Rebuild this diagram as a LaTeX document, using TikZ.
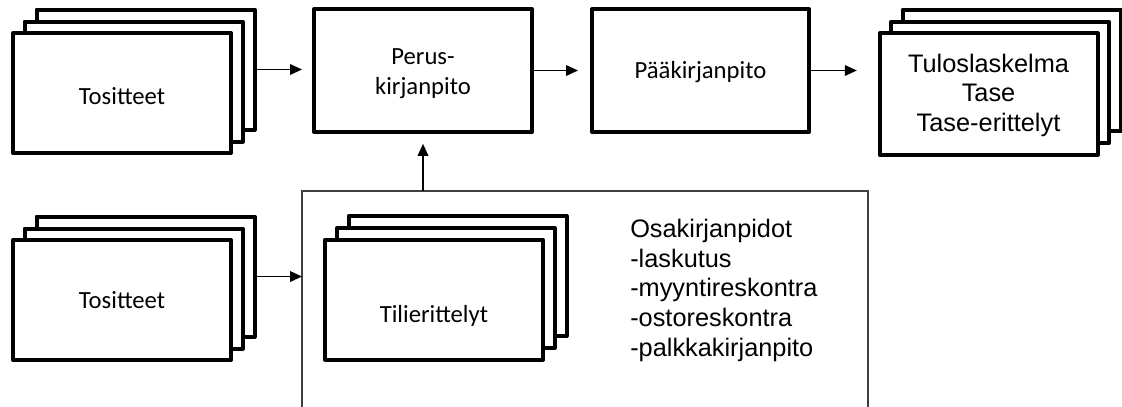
\documentclass[tikz,border=0pt]{standalone}
\usepackage{fontspec}
\setmainfont{Carlito}
\newfontfamily\arialf{Liberation Sans}
\usetikzlibrary{arrows.meta,calc}
\newcommand{\lowertext}[2]{\raisebox{-#1}[\height][\depth]{#2}}
\begin{document}
\begin{tikzpicture}[x=0.75pt,y=-0.75pt,
  card/.style={draw=black, line width=3pt, fill=white, line join=round,
    minimum width=163.5pt, minimum height=90pt, inner sep=0pt, outer sep=0pt,
    font=\fontsize{18.5pt}{22.5pt}\selectfont, align=center},
  bigcard/.style={card, minimum height=92pt},
  arr/.style={line width=1.1pt, draw=black, -{Triangle[length=9pt,width=8pt]}},
  frame/.style={draw=black!75, line width=1.1pt},
  arial/.style={font=\arialf\fontsize{19pt}{22.2pt}\selectfont},
]
\useasboundingbox (0,0) rectangle (1122,407);

% top Tositteet stack
\node[card] (tA3) at (145.5,69.5) {};
\node[card] (tA2) at (133.5,81.5) {};
\node[card] (tA1) at (122,93) {\lowertext{2pt}{Tositteet}};

% bottom Tositteet stack
\node[card] (tB3) at (145.5,276.5) {};
\node[card] (tB2) at (133.5,288.5) {};
\node[card] (tB1) at (122,300) {Tositteet};

% Perus-kirjanpito and Paakirjanpito
\node[bigcard] (perus) at (423,70.5)
  {\lowertext{2pt}{\begin{tabular}{@{}c@{}}Perus-\\kirjanpito\end{tabular}}};
\node[bigcard, minimum width=162.75pt] (paa) at (700.5,70.5) {\lowertext{1.5pt}{Pääkirjanpito}};

% result stack
\node[card, minimum height=91pt] (r3) at (1011.5,70.5) {};
\node[card, minimum height=91pt] (r2) at (1000,82.5) {};
\node[card, minimum height=91pt, arial] (r1) at (988.5,94)
  {\lowertext{1.5pt}{\begin{tabular}{@{}c@{}}Tuloslaskelma\\Tase\\Tase-erittelyt\end{tabular}}};

% big frame (open at the bottom)
\node[minimum width=424.5pt, minimum height=165pt, inner sep=0pt, outer sep=0pt] (osa) at (585,301) {};
\draw[frame] (osa.south west) -- (osa.north west) -- (osa.north east) -- (osa.south east);

% Tilierittelyt stack
\node[card] (ti3) at (457.5,276) {};
\node[card] (ti2) at (446,288) {};
\node[card] (ti1) at (434,299.5) {};
\node[font=\fontsize{18.5pt}{22.5pt}\selectfont] (tilit) at (434,316) {Tilierittelyt};

% Osakirjanpidot text
\node[arial, anchor=north west, inner sep=0pt, align=left] (osatxt) at (630,219)
  {Osakirjanpidot\\-laskutus\\-myyntireskontra\\-ostoreskontra\\-palkkakirjanpito};

% connectors
\draw[arr, shorten >=9pt] (tA3.east) -- (tA3.east -| perus.west);
\draw[arr, shorten >=10.5pt] (perus.east) -- (paa.west);
\draw[arr, shorten >=17pt] (paa.east) -- (paa.east -| r1.west);
\draw[arr, shorten >=9pt] (perus.south |- osa.north) -- (perus.south);
\draw[arr] (tB3.east) -- (tB3.east -| osa.west);
\end{tikzpicture}
\end{document}
